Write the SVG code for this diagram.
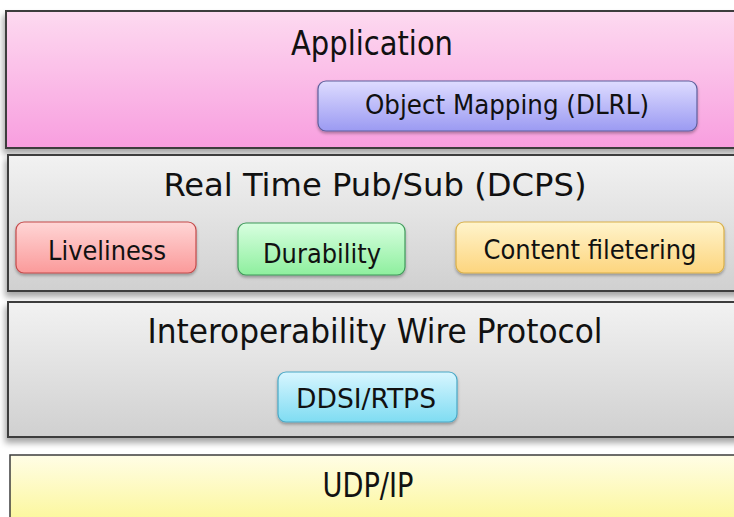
<svg xmlns="http://www.w3.org/2000/svg" width="734" height="517" viewBox="0 0 734 517">
  <style>
    .layer { stroke: #3c3c3c; stroke-width: 2; }
    .box { stroke-width: 1.2; }
    .t { font-family: "DejaVu Sans Condensed", "DejaVu Sans", Tahoma, sans-serif; fill: #111; text-anchor: middle; }
    .big { font-size: 34px; }
    .mid { font-size: 32px; }
    .small { font-size: 27px; }
  </style>
  <defs>
    <linearGradient id="gPink" x1="0" y1="0" x2="0" y2="1">
      <stop offset="0" stop-color="#fddaf0"/>
      <stop offset="1" stop-color="#f89edf"/>
    </linearGradient>
    <linearGradient id="gGray" x1="0" y1="0" x2="0" y2="1">
      <stop offset="0" stop-color="#f2f2f2"/>
      <stop offset="1" stop-color="#d0d0d0"/>
    </linearGradient>
    <linearGradient id="gYellowLayer" x1="0" y1="0" x2="0" y2="1">
      <stop offset="0" stop-color="#fffde6"/>
      <stop offset="1" stop-color="#fbf68c"/>
    </linearGradient>
    <linearGradient id="gBlue" x1="0" y1="0" x2="0" y2="1">
      <stop offset="0" stop-color="#dedcff"/>
      <stop offset="1" stop-color="#9b9af2"/>
    </linearGradient>
    <linearGradient id="gRed" x1="0" y1="0" x2="0" y2="1">
      <stop offset="0" stop-color="#ffd6d6"/>
      <stop offset="1" stop-color="#fb9a9a"/>
    </linearGradient>
    <linearGradient id="gGreen" x1="0" y1="0" x2="0" y2="1">
      <stop offset="0" stop-color="#d8ffe0"/>
      <stop offset="1" stop-color="#8eef9e"/>
    </linearGradient>
    <linearGradient id="gAmber" x1="0" y1="0" x2="0" y2="1">
      <stop offset="0" stop-color="#fff4cc"/>
      <stop offset="1" stop-color="#fdd57e"/>
    </linearGradient>
    <linearGradient id="gCyan" x1="0" y1="0" x2="0" y2="1">
      <stop offset="0" stop-color="#d8f6ff"/>
      <stop offset="1" stop-color="#7fdcf2"/>
    </linearGradient>
    <filter id="layerShadow" x="-5%" y="-10%" width="115%" height="130%">
      <feDropShadow dx="-2" dy="5" stdDeviation="3" flood-color="#000" flood-opacity="0.35"/>
    </filter>
    <filter id="boxShadow" x="-10%" y="-20%" width="120%" height="150%">
      <feDropShadow dx="0" dy="2" stdDeviation="1.5" flood-color="#000" flood-opacity="0.3"/>
    </filter>
  </defs>

  <rect width="734" height="517" fill="#ffffff"/>

  <!-- Application layer -->
  <g id="application">
    <rect class="layer" x="6" y="11" width="740" height="137" fill="url(#gPink)" filter="url(#layerShadow)"/>
    <text class="t big" x="372" y="55" textLength="162" lengthAdjust="spacingAndGlyphs">Application</text>
  </g>
  <g id="object-mapping">
    <rect class="box" x="318" y="81" width="379" height="50" rx="8" fill="url(#gBlue)" stroke="#5f5f9c" filter="url(#boxShadow)"/>
    <text class="t small" x="507" y="114" textLength="284" lengthAdjust="spacingAndGlyphs" style="font-size:26px">Object Mapping (DLRL)</text>
  </g>

  <!-- DCPS layer -->
  <g id="dcps">
    <rect class="layer" x="8" y="155" width="740" height="136" fill="url(#gGray)" filter="url(#layerShadow)"/>
    <text class="t mid" x="375" y="196" textLength="423" lengthAdjust="spacingAndGlyphs">Real Time Pub/Sub (DCPS)</text>
  </g>
  <g id="liveliness">
    <rect class="box" x="16" y="222" width="180" height="51" rx="8" fill="url(#gRed)" stroke="#c44a4a" filter="url(#boxShadow)"/>
    <text class="t small" x="107" y="260" textLength="118" lengthAdjust="spacingAndGlyphs">Liveliness</text>
  </g>
  <g id="durability">
    <rect class="box" x="238" y="223" width="167" height="52" rx="8" fill="url(#gGreen)" stroke="#3f9a5a" filter="url(#boxShadow)"/>
    <text class="t small" x="322" y="263" textLength="118" lengthAdjust="spacingAndGlyphs">Durability</text>
  </g>
  <g id="content-filtering">
    <rect class="box" x="456" y="222" width="268" height="51" rx="8" fill="url(#gAmber)" stroke="#d9b04a" filter="url(#boxShadow)"/>
    <text class="t small" x="590" y="259" textLength="213" lengthAdjust="spacingAndGlyphs">Content filetering</text>
  </g>

  <!-- Wire protocol layer -->
  <g id="wire-protocol">
    <rect class="layer" x="8" y="302" width="740" height="135" fill="url(#gGray)" filter="url(#layerShadow)"/>
    <text class="t big" x="375" y="343" textLength="455" lengthAdjust="spacingAndGlyphs">Interoperability Wire Protocol</text>
  </g>
  <g id="ddsi-rtps">
    <rect class="box" x="278" y="372" width="179" height="50" rx="8" fill="url(#gCyan)" stroke="#4aa8c6" filter="url(#boxShadow)"/>
    <text class="t small" x="366" y="408" textLength="140" lengthAdjust="spacingAndGlyphs">DDSI/RTPS</text>
  </g>

  <!-- Transport layer -->
  <g id="udp-ip">
    <rect x="10" y="455" width="740" height="80" fill="url(#gYellowLayer)" stroke="#3c3c3c" stroke-width="1.5"/>
    <text class="t big" x="368" y="497" textLength="91" lengthAdjust="spacingAndGlyphs">UDP/IP</text>
  </g>

  <g id="connectors"/>
</svg>
